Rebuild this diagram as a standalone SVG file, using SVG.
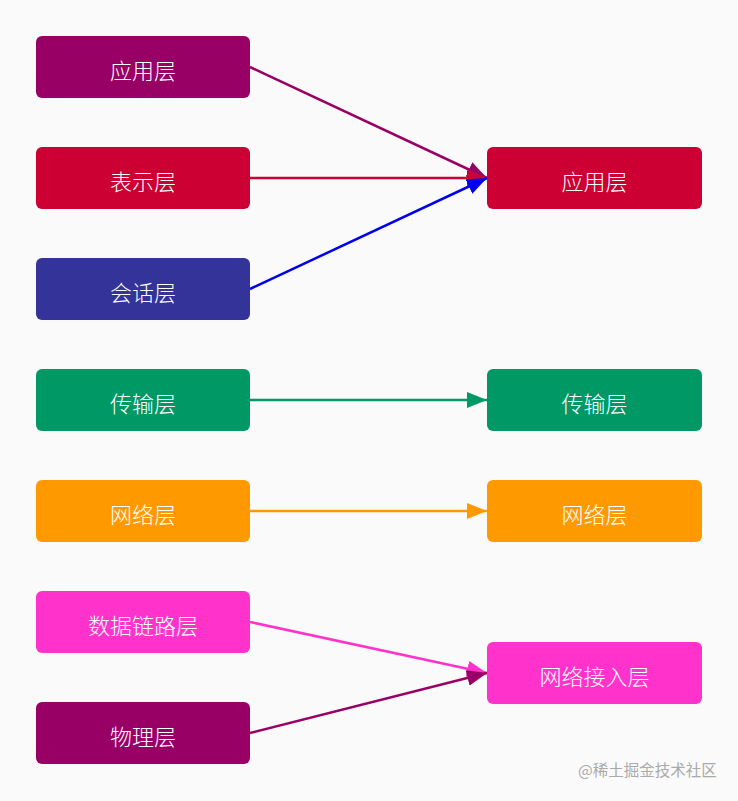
<svg xmlns="http://www.w3.org/2000/svg" width="738" height="801" viewBox="0 0 738 801">
<style>
.n rect{rx:6;ry:6}
.n text{font-family:"Noto Sans CJK SC","Noto Sans",sans-serif;font-size:22px;font-weight:300;fill:#ffffff;text-anchor:middle;dominant-baseline:central}
.e{fill:none;stroke-width:2.5}
.wm{font-family:"Noto Sans CJK SC","Noto Sans",sans-serif;font-size:15.5px;fill:#aaaaaa}
</style>
<defs>
<marker id="m1" viewBox="0 0 20 16" refX="20" refY="8" markerWidth="8" markerHeight="6.4" markerUnits="strokeWidth" orient="auto"><path d="M0,0L20,8L0,16z" fill="#990066"/></marker>
<marker id="m2" viewBox="0 0 20 16" refX="20" refY="8" markerWidth="8" markerHeight="6.4" markerUnits="strokeWidth" orient="auto"><path d="M0,0L20,8L0,16z" fill="#cc0033"/></marker>
<marker id="m3" viewBox="0 0 20 16" refX="20" refY="8" markerWidth="8" markerHeight="6.4" markerUnits="strokeWidth" orient="auto"><path d="M0,0L20,8L0,16z" fill="#0000ee"/></marker>
<marker id="m4" viewBox="0 0 20 16" refX="20" refY="8" markerWidth="8" markerHeight="6.4" markerUnits="strokeWidth" orient="auto"><path d="M0,0L20,8L0,16z" fill="#009966"/></marker>
<marker id="m5" viewBox="0 0 20 16" refX="20" refY="8" markerWidth="8" markerHeight="6.4" markerUnits="strokeWidth" orient="auto"><path d="M0,0L20,8L0,16z" fill="#ff9900"/></marker>
<marker id="m6" viewBox="0 0 20 16" refX="20" refY="8" markerWidth="8" markerHeight="6.4" markerUnits="strokeWidth" orient="auto"><path d="M0,0L20,8L0,16z" fill="#ff33cc"/></marker>
</defs>
<rect width="738" height="801" fill="#fafafa"/>
<g id="connectors">
<line class="e" x1="250" y1="67" x2="487" y2="178" stroke="#990066" marker-end="url(#m1)"/>
<line class="e" x1="250" y1="178" x2="487" y2="178" stroke="#cc0033" marker-end="url(#m2)"/>
<line class="e" x1="250" y1="289" x2="487" y2="178" stroke="#0000ee" marker-end="url(#m3)"/>
<line class="e" x1="250" y1="400" x2="487" y2="400" stroke="#009966" marker-end="url(#m4)"/>
<line class="e" x1="250" y1="511" x2="487" y2="511" stroke="#ff9900" marker-end="url(#m5)"/>
<line class="e" x1="250" y1="622" x2="487" y2="673" stroke="#ff33cc" marker-end="url(#m6)"/>
<line class="e" x1="250" y1="733" x2="487" y2="673" stroke="#990066" marker-end="url(#m1)"/>
</g>
<g id="l1" class="n"><rect x="36" y="36" width="214" height="62" fill="#990066"/><text x="143" y="69">应用层</text></g>
<g id="l2" class="n"><rect x="36" y="147" width="214" height="62" fill="#cc0033"/><text x="143" y="180">表示层</text></g>
<g id="l3" class="n"><rect x="36" y="258" width="214" height="62" fill="#333399"/><text x="143" y="291">会话层</text></g>
<g id="l4" class="n"><rect x="36" y="369" width="214" height="62" fill="#009966"/><text x="143" y="402">传输层</text></g>
<g id="l5" class="n"><rect x="36" y="480" width="214" height="62" fill="#ff9900"/><text x="143" y="513">网络层</text></g>
<g id="l6" class="n"><rect x="36" y="591" width="214" height="62" fill="#ff33cc"/><text x="143" y="624">数据链路层</text></g>
<g id="l7" class="n"><rect x="36" y="702" width="214" height="62" fill="#990066"/><text x="143" y="735">物理层</text></g>
<g id="r1" class="n"><rect x="487" y="147" width="215" height="62" fill="#cc0033"/><text x="594.5" y="180">应用层</text></g>
<g id="r2" class="n"><rect x="487" y="369" width="215" height="62" fill="#009966"/><text x="594.5" y="402">传输层</text></g>
<g id="r3" class="n"><rect x="487" y="480" width="215" height="62" fill="#ff9900"/><text x="594.5" y="513">网络层</text></g>
<g id="r4" class="n"><rect x="487" y="642" width="215" height="62" fill="#ff33cc"/><text x="594.5" y="675">网络接入层</text></g>
<text class="wm" x="578" y="776">@稀土掘金技术社区</text>
</svg>
